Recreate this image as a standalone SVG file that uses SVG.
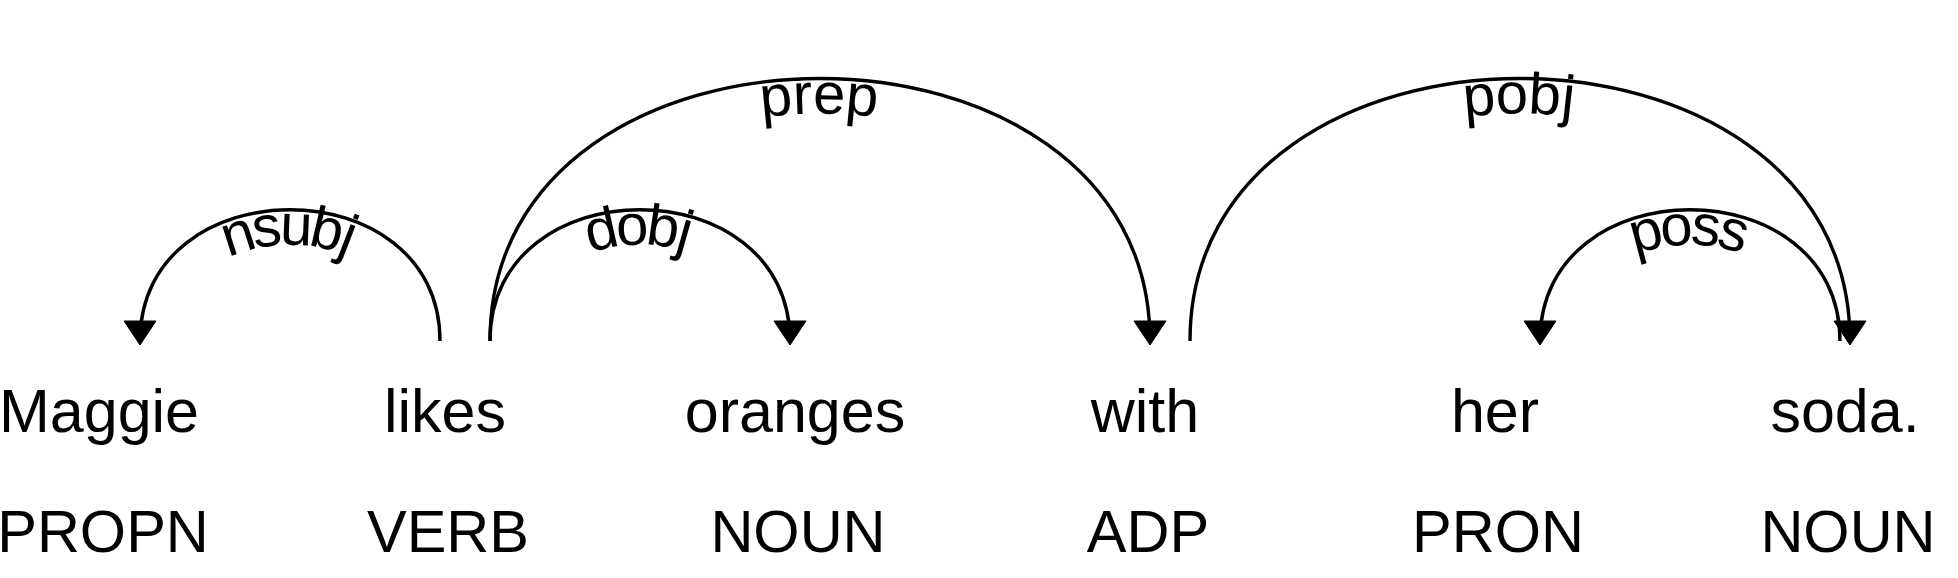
<svg xmlns="http://www.w3.org/2000/svg" xmlns:xlink="http://www.w3.org/1999/xlink" width="1958" height="578" viewBox="0 0 1958 578">
<style>
.word{font-family:"Liberation Sans",Arial,sans-serif;font-size:61px;fill:#000;text-anchor:middle}
.tag{font-family:"Liberation Sans",Arial,sans-serif;font-size:59.5px;fill:#000;text-anchor:middle}
.arc{fill:none;stroke:#000;stroke-width:3.4}
.head{fill:#000;stroke:#000;stroke-width:1}
.lbl{font-family:"Liberation Sans",Arial,sans-serif;font-size:58px;letter-spacing:2px;fill:#000}
</style>
<rect width="1958" height="578" fill="#fff"/>
<defs>
<path id="p-nsubj" d="M140,341 C140,166 440,166 440,341"/>
<path id="p-dobj" d="M490,341 C490,166 790,166 790,341"/>
<path id="p-prep" d="M490,341 C490,-9 1150,-9 1150,341"/>
<path id="p-pobj" d="M1190,341 C1190,-9 1850,-9 1850,341"/>
<path id="p-poss" d="M1540,341 C1540,166 1840,166 1840,341"/>
</defs>
<g id="w0"><text class="word" x="99" y="432">Maggie</text><text class="tag" x="103" y="552">PROPN</text></g>
<g id="w1"><text class="word" x="445" y="432">likes</text><text class="tag" x="448" y="552">VERB</text></g>
<g id="w2"><text class="word" x="795" y="432">oranges</text><text class="tag" x="798" y="552">NOUN</text></g>
<g id="w3"><text class="word" x="1145" y="432">with</text><text class="tag" x="1148" y="552">ADP</text></g>
<g id="w4"><text class="word" x="1495" y="432">her</text><text class="tag" x="1498" y="552">PRON</text></g>
<g id="w5"><text class="word" x="1845" y="432">soda.</text><text class="tag" x="1848" y="552">NOUN</text></g>
<g id="connectors">
<use href="#p-nsubj" xlink:href="#p-nsubj" class="arc"/>
<text class="lbl" dy="35"><textPath href="#p-nsubj" xlink:href="#p-nsubj" startOffset="50%" text-anchor="middle">nsubj</textPath></text>
<path class="head" d="M140,345 L124,321 156,321 Z"/>
<use href="#p-dobj" xlink:href="#p-dobj" class="arc"/>
<text class="lbl" dy="35"><textPath href="#p-dobj" xlink:href="#p-dobj" startOffset="50%" text-anchor="middle">dobj</textPath></text>
<path class="head" d="M790,345 L774,321 806,321 Z"/>
<use href="#p-prep" xlink:href="#p-prep" class="arc"/>
<text class="lbl" dy="35"><textPath href="#p-prep" xlink:href="#p-prep" startOffset="50%" text-anchor="middle">prep</textPath></text>
<path class="head" d="M1150,345 L1134,321 1166,321 Z"/>
<use href="#p-pobj" xlink:href="#p-pobj" class="arc"/>
<text class="lbl" dy="35"><textPath href="#p-pobj" xlink:href="#p-pobj" startOffset="50%" text-anchor="middle">pobj</textPath></text>
<path class="head" d="M1850,345 L1834,321 1866,321 Z"/>
<use href="#p-poss" xlink:href="#p-poss" class="arc"/>
<text class="lbl" dy="35"><textPath href="#p-poss" xlink:href="#p-poss" startOffset="50%" text-anchor="middle">poss</textPath></text>
<path class="head" d="M1540,345 L1524,321 1556,321 Z"/>
</g>
</svg>
